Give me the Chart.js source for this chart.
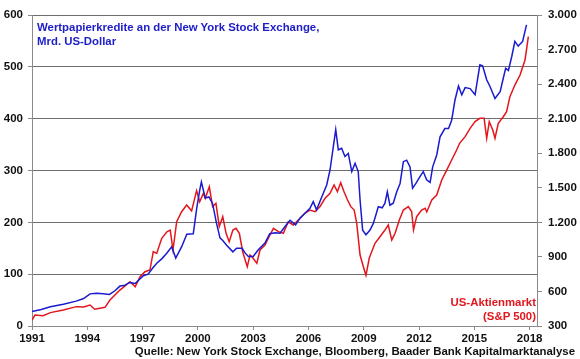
<!DOCTYPE html>
<html>
<head>
<meta charset="utf-8">
<script src="https://cdn.jsdelivr.net/npm/chart.js@4"></script>
<style>
  html, body { margin: 0; padding: 0; background: #fff; }
  #wrap { position: relative; width: 580px; height: 359px; font-family: "Liberation Sans", Arial, sans-serif; font-weight: bold; }
  #chart { position: absolute; left: 0; top: 0; }
  .note { position: absolute; font-size: 11.4px; line-height: 14px; white-space: nowrap; }
  #blueNote { left: 37px; top: 20px; color: #2020c8; }
  #redNote { right: 44px; top: 295px; color: #e3161d; text-align: right; }
  #source { right: 5px; top: 344px; color: #111; }
</style>
</head>
<body>
<div id="wrap">
  <canvas id="chart" width="580" height="359"></canvas>
  <div class="note" id="blueNote">Wertpapierkredite an der New York Stock Exchange,<br>Mrd. US-Dollar</div>
  <div class="note" id="redNote">US-Aktienmarkt<br>(S&amp;P 500)</div>
  <div class="note" id="source">Quelle: New York Stock Exchange, Bloomberg, Baader Bank Kapitalmarktanalyse</div>
</div>
<script>
// Wertpapierkredite NYSE (Mrd. US-Dollar), linke Achse
const creditYears = [1991.0, 1991.5, 1992.0, 1992.7, 1993.4, 1993.8, 1994.15, 1994.5, 1994.86, 1995.2, 1995.5, 1995.77,
  1996.0, 1996.3, 1996.6, 1997.04, 1997.3, 1997.55, 1997.77, 1998.05, 1998.3, 1998.58, 1998.8, 1999.12, 1999.4, 1999.75,
  1999.94, 2000.1, 2000.19, 2000.4, 2000.6, 2000.8, 2001.0, 2001.2, 2001.35, 2001.56, 2001.9, 2002.1, 2002.4, 2002.56,
  2002.74, 2003.0, 2003.28, 2003.64, 2003.9, 2004.2, 2004.46, 2004.73, 2005.0, 2005.3, 2005.54, 2005.8, 2006.08, 2006.26,
  2006.44, 2006.72, 2006.99, 2007.17, 2007.35, 2007.48, 2007.62, 2007.8, 2007.98, 2008.16, 2008.35, 2008.53, 2008.7,
  2008.8, 2008.94, 2009.12, 2009.34, 2009.52, 2009.79, 2010.0, 2010.15, 2010.28, 2010.42, 2010.6, 2010.79, 2010.97,
  2011.15, 2011.33, 2011.51, 2011.65, 2011.83, 2012.05, 2012.23, 2012.41, 2012.6, 2012.74, 2012.96, 2013.14, 2013.4,
  2013.6, 2013.77, 2013.95, 2014.14, 2014.32, 2014.5, 2014.77, 2015.04, 2015.3, 2015.45, 2015.67, 2015.85, 2016.12,
  2016.4, 2016.57, 2016.7, 2016.85, 2017.03, 2017.2, 2017.38, 2017.62, 2017.83];
const creditValues = [28, 32, 37, 42, 48, 53, 62, 63, 62, 61, 68, 77,
  78, 84, 82, 97, 100, 112, 121, 130, 140, 153, 131, 153, 177, 178,
  228, 262, 278, 247, 249, 236, 200, 170, 165, 156, 143, 150, 150, 141,
  134, 134, 147, 160, 178, 180, 179, 192, 204, 195, 208, 217, 227, 240,
  224, 249, 272, 301, 346, 379, 340, 343, 327, 333, 298, 314, 298,
  243, 185, 176, 185, 198, 230, 228, 237, 259, 233, 237, 259, 275,
  317, 320, 307, 266, 275, 288, 298, 282, 277, 307, 330, 365, 381,
  381, 397, 436, 463, 446, 460, 458, 446, 504, 502, 475, 462, 439,
  452, 478, 497, 493, 520, 549, 540, 549, 581];

// S&P 500, rechte Achse
const spxYears = [1991.0, 1991.16, 1991.6, 1992.0, 1992.7, 1993.4, 1993.8, 1994.15, 1994.4, 1994.96, 1995.23, 1995.77,
  1996.32, 1996.6, 1996.86, 1997.13, 1997.4, 1997.58, 1997.77, 1998.04, 1998.32, 1998.5, 1998.65, 1998.85, 1999.12,
  1999.39, 1999.66, 1999.93, 2000.1, 2000.3, 2000.4, 2000.62, 2000.8, 2000.98, 2001.16, 2001.35, 2001.53, 2001.7,
  2001.9, 2002.07, 2002.25, 2002.43, 2002.68, 2002.83, 2003.0, 2003.2, 2003.37, 2003.64, 2003.91, 2004.1, 2004.37,
  2004.64, 2004.9, 2005.18, 2005.45, 2005.8, 2006.08, 2006.35, 2006.62, 2006.9, 2007.17, 2007.39, 2007.57, 2007.75,
  2007.93, 2008.12, 2008.3, 2008.48, 2008.62, 2008.8, 2008.98, 2009.12, 2009.3, 2009.61, 2009.88, 2010.15, 2010.33,
  2010.52, 2010.7, 2010.93, 2011.15, 2011.42, 2011.6, 2011.7, 2011.87, 2012.14, 2012.33, 2012.42, 2012.69, 2012.96,
  2013.23, 2013.5, 2013.77, 2014.04, 2014.2, 2014.5, 2014.77, 2015.04, 2015.3, 2015.53, 2015.67, 2015.81, 2016.0,
  2016.12, 2016.3, 2016.57, 2016.75, 2016.93, 2017.2, 2017.48, 2017.75, 2017.93];
const spxValues = [352, 395, 390, 416, 439, 468, 465, 482, 445, 462, 526, 612,
  685, 641, 728, 771, 786, 945, 931, 1061, 1118, 1133, 960, 1205, 1292,
  1350, 1300, 1475, 1379, 1452, 1409, 1509, 1336, 1365, 1162, 1249, 1105, 1032,
  1133, 1148, 1105, 945, 815, 916, 888, 844, 960, 1003, 1090, 1148, 1119,
  1105, 1205, 1177, 1220, 1278, 1307, 1292, 1336, 1409, 1452, 1524, 1466, 1544,
  1466, 1394, 1336, 1307, 1191, 916, 815, 740, 890, 1018, 1075, 1133, 1177,
  1047, 1105, 1220, 1307, 1336, 1292, 1133, 1249, 1307, 1322, 1290, 1394, 1437,
  1568, 1654, 1741, 1828, 1886, 1944, 2016, 2074, 2103, 2103, 1930, 2074, 2002,
  1930, 2060, 2117, 2161, 2291, 2392, 2479, 2609, 2812];

// Achsenbeschriftungen
const yearTicks = [1991, 1994, 1997, 2000, 2003, 2006, 2009, 2012, 2015, 2018];
const leftTicks = [0, 100, 200, 300, 400, 500, 600];
const rightTicks = [300, 600, 900, 1200, 1500, 1800, 2100, 2400, 2700, 3000];

const tickFont = { family: '"Liberation Sans", Arial, sans-serif', size: 11.5, weight: 'bold' };
const gridGrey = '#6e6e6e';
const axisGrey = '#8a8a8a';

// Tausenderpunkt wie im Original (3.000)
const fmtDe = v => v >= 1000 ? Math.floor(v / 1000) + '.' + String(v % 1000).padStart(3, '0') : String(v);
const toPoints = (xs, ys) => xs.map((x, i) => ({ x, y: ys[i] }));
const setTicks = list => scale => { scale.ticks = list.map(v => ({ value: v })); };

new Chart(document.getElementById('chart').getContext('2d'), {
  type: 'line',
  data: {
    datasets: [{
      label: 'Wertpapierkredite',
      data: toPoints(creditYears, creditValues),
      borderColor: '#1a1ad0',
      borderWidth: 1.5,
      pointRadius: 0,
      yAxisID: 'yL'
    }, {
      label: 'S&P 500',
      data: toPoints(spxYears, spxValues),
      borderColor: '#e3161d',
      borderWidth: 1.5,
      pointRadius: 0,
      yAxisID: 'yR'
    }]
  },
  options: {
    responsive: false,
    animation: false,
    layout: { padding: { top: 15, left: 0, right: 0, bottom: 0 } },
    plugins: { legend: { display: false }, tooltip: { enabled: false } },
    scales: {
      x: {
        type: 'linear',
        min: 1991,
        max: 2018.4,
        afterBuildTicks: setTicks(yearTicks),
        afterFit: s => { s.height = 33; },
        ticks: { font: tickFont, color: '#111', padding: 2, maxRotation: 0, callback: v => String(v) },
        grid: { drawOnChartArea: false, drawTicks: true, tickLength: 4, tickColor: axisGrey },
        border: { display: true, color: axisGrey }
      },
      yL: {
        position: 'left',
        min: 0,
        max: 600,
        afterBuildTicks: setTicks(leftTicks),
        afterFit: s => { s.width = 32; },
        ticks: { font: tickFont, color: '#111', padding: 5 },
        grid: { color: gridGrey, tickColor: axisGrey, tickLength: 4 },
        border: { display: true, color: axisGrey }
      },
      yR: {
        position: 'right',
        min: 300,
        max: 3000,
        afterBuildTicks: setTicks(rightTicks),
        afterFit: s => { s.width = 43; },
        ticks: { font: tickFont, color: '#111', padding: 6, callback: v => fmtDe(v) },
        grid: { drawOnChartArea: false, tickColor: axisGrey, tickLength: 5 },
        border: { display: true, color: axisGrey }
      }
    }
  }
});
</script>
</body>
</html>
